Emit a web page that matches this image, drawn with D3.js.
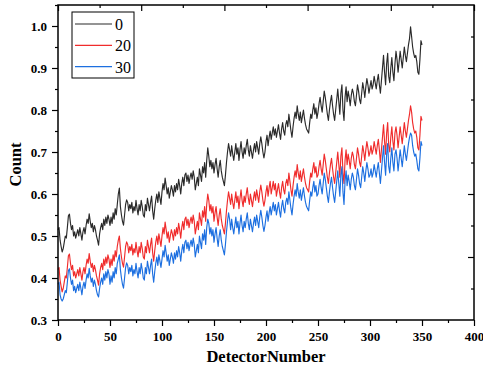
<!DOCTYPE html>
<html><head><meta charset="utf-8">
<script src="https://cdn.jsdelivr.net/npm/d3@7"></script>
<style>body{margin:0;background:#fff;} svg{display:block}</style>
</head><body>
<svg id="c" width="483" height="367"></svg>
<script>
const seriesNames = ["0", "20", "30"];
const seriesColors = ["#2a2a2a", "#f02c2c", "#1c6fe0"];
const xTicks = [0, 50, 100, 150, 200, 250, 300, 350, 400];
const yTicks = [0.3, 0.4, 0.5, 0.6, 0.7, 0.8, 0.9, 1.0];

const count0 = [0.515,0.52,0.49,0.475,0.462,0.47,0.485,0.50,0.495,0.52,
0.548,0.552,0.53,0.515,0.525,0.50,0.51,0.495,0.505,0.515,
0.50,0.52,0.505,0.49,0.51,0.52,0.505,0.525,0.54,0.53,
0.553,0.535,0.52,0.53,0.51,0.525,0.515,0.50,0.49,0.478,
0.505,0.52,0.53,0.515,0.54,0.525,0.545,0.53,0.55,0.54,
0.525,0.545,0.53,0.555,0.54,0.565,0.55,0.575,0.60,0.614,
0.57,0.55,0.535,0.526,0.55,0.575,0.586,0.58,0.56,0.575,
0.565,0.58,0.555,0.57,0.56,0.585,0.565,0.55,0.575,0.56,
0.585,0.57,0.55,0.545,0.575,0.56,0.59,0.575,0.56,0.58,
0.595,0.56,0.54,0.565,0.585,0.60,0.58,0.605,0.59,0.575,
0.605,0.625,0.61,0.638,0.62,0.60,0.615,0.59,0.605,0.62,
0.61,0.595,0.62,0.605,0.625,0.61,0.635,0.62,0.60,0.625,
0.64,0.62,0.645,0.65,0.63,0.645,0.625,0.64,0.65,0.635,
0.655,0.64,0.61,0.625,0.64,0.62,0.66,0.645,0.63,0.665,
0.65,0.675,0.64,0.68,0.71,0.69,0.665,0.68,0.66,0.675,
0.65,0.67,0.685,0.66,0.64,0.665,0.68,0.655,0.64,0.63,
0.62,0.645,0.675,0.70,0.72,0.705,0.69,0.715,0.695,0.68,
0.70,0.72,0.695,0.71,0.68,0.705,0.725,0.70,0.685,0.71,
0.695,0.715,0.73,0.705,0.69,0.715,0.70,0.685,0.705,0.72,
0.70,0.725,0.71,0.695,0.72,0.736,0.72,0.70,0.686,0.70,
0.725,0.74,0.715,0.735,0.75,0.73,0.745,0.76,0.74,0.755,
0.735,0.75,0.765,0.745,0.73,0.755,0.77,0.75,0.74,0.765,
0.775,0.76,0.79,0.77,0.75,0.735,0.76,0.78,0.795,0.78,
0.81,0.79,0.775,0.795,0.77,0.785,0.80,0.78,0.765,0.755,
0.75,0.745,0.77,0.79,0.78,0.80,0.815,0.79,0.805,0.78,
0.795,0.815,0.83,0.81,0.795,0.82,0.845,0.83,0.81,0.79,
0.775,0.80,0.82,0.835,0.81,0.79,0.775,0.80,0.825,0.85,
0.82,0.79,0.84,0.86,0.80,0.775,0.83,0.855,0.82,0.845,
0.83,0.81,0.835,0.85,0.84,0.82,0.81,0.835,0.86,0.845,
0.825,0.815,0.84,0.865,0.85,0.83,0.855,0.875,0.86,0.84,
0.855,0.87,0.85,0.86,0.88,0.865,0.85,0.87,0.885,0.86,
0.84,0.87,0.90,0.93,0.89,0.86,0.91,0.935,0.88,0.865,
0.90,0.925,0.89,0.87,0.91,0.94,0.92,0.89,0.915,0.94,
0.92,0.90,0.925,0.95,0.93,0.915,0.935,0.955,0.97,0.998,
0.975,0.95,0.935,0.925,0.93,0.915,0.89,0.885,0.92,0.965,0.955];

const count20 = [0.42,0.425,0.395,0.38,0.367,0.375,0.39,0.405,0.40,0.425,
0.453,0.457,0.435,0.42,0.43,0.405,0.415,0.40,0.41,0.42,
0.405,0.425,0.41,0.395,0.415,0.425,0.41,0.43,0.445,0.435,
0.458,0.44,0.425,0.435,0.415,0.43,0.42,0.405,0.395,0.383,
0.41,0.425,0.435,0.42,0.445,0.43,0.45,0.435,0.455,0.445,
0.425,0.445,0.43,0.455,0.44,0.465,0.45,0.475,0.49,0.50,
0.47,0.45,0.435,0.426,0.45,0.475,0.486,0.48,0.46,0.475,
0.465,0.48,0.455,0.47,0.46,0.485,0.465,0.45,0.475,0.46,
0.485,0.47,0.45,0.445,0.475,0.46,0.49,0.475,0.46,0.48,
0.495,0.46,0.44,0.465,0.485,0.50,0.48,0.505,0.49,0.475,
0.50,0.52,0.505,0.533,0.515,0.495,0.51,0.485,0.50,0.515,
0.505,0.49,0.515,0.50,0.52,0.505,0.53,0.515,0.495,0.52,
0.535,0.515,0.54,0.545,0.525,0.54,0.52,0.535,0.545,0.53,
0.55,0.535,0.505,0.52,0.535,0.515,0.555,0.54,0.525,0.56,
0.545,0.57,0.535,0.575,0.60,0.585,0.56,0.575,0.555,0.57,
0.535,0.555,0.57,0.545,0.525,0.55,0.565,0.54,0.525,0.515,
0.505,0.53,0.56,0.585,0.605,0.59,0.575,0.60,0.58,0.565,
0.585,0.605,0.58,0.595,0.565,0.59,0.61,0.585,0.57,0.595,
0.58,0.60,0.615,0.59,0.575,0.60,0.585,0.57,0.59,0.605,
0.585,0.61,0.595,0.58,0.605,0.621,0.605,0.585,0.571,0.585,
0.605,0.62,0.595,0.615,0.63,0.60,0.615,0.63,0.61,0.625,
0.595,0.61,0.625,0.605,0.59,0.615,0.63,0.61,0.60,0.625,
0.635,0.62,0.65,0.63,0.61,0.595,0.62,0.64,0.655,0.64,
0.67,0.65,0.635,0.655,0.63,0.645,0.66,0.64,0.625,0.615,
0.61,0.605,0.63,0.65,0.64,0.66,0.675,0.65,0.665,0.64,
0.645,0.665,0.68,0.66,0.645,0.67,0.695,0.68,0.66,0.64,
0.625,0.65,0.67,0.685,0.66,0.64,0.625,0.65,0.675,0.70,
0.67,0.64,0.69,0.71,0.65,0.625,0.68,0.705,0.67,0.695,
0.68,0.66,0.685,0.70,0.69,0.67,0.66,0.685,0.71,0.695,
0.675,0.665,0.69,0.715,0.70,0.68,0.705,0.725,0.71,0.69,
0.70,0.715,0.695,0.705,0.725,0.71,0.695,0.715,0.73,0.705,
0.675,0.705,0.735,0.765,0.725,0.695,0.745,0.77,0.715,0.70,
0.735,0.76,0.725,0.705,0.745,0.76,0.74,0.71,0.735,0.76,
0.74,0.72,0.745,0.77,0.75,0.735,0.755,0.775,0.79,0.81,
0.795,0.77,0.755,0.745,0.75,0.735,0.71,0.705,0.74,0.785,0.775];

const count30 = [0.385,0.39,0.36,0.35,0.345,0.35,0.36,0.37,0.365,0.39,
0.418,0.422,0.40,0.385,0.395,0.37,0.38,0.365,0.375,0.385,
0.37,0.39,0.375,0.36,0.38,0.39,0.375,0.395,0.41,0.40,
0.423,0.405,0.39,0.40,0.38,0.395,0.385,0.37,0.36,0.355,
0.375,0.39,0.40,0.385,0.41,0.395,0.415,0.40,0.42,0.41,
0.385,0.405,0.39,0.415,0.40,0.425,0.41,0.435,0.445,0.455,
0.42,0.40,0.385,0.376,0.40,0.425,0.436,0.43,0.41,0.425,
0.415,0.43,0.405,0.42,0.41,0.435,0.415,0.40,0.425,0.41,
0.435,0.42,0.40,0.395,0.425,0.41,0.44,0.425,0.41,0.43,
0.445,0.41,0.39,0.415,0.435,0.45,0.43,0.455,0.44,0.425,
0.445,0.465,0.45,0.478,0.46,0.44,0.455,0.43,0.445,0.46,
0.45,0.435,0.46,0.445,0.465,0.45,0.475,0.46,0.44,0.465,
0.48,0.46,0.485,0.49,0.47,0.485,0.465,0.48,0.49,0.475,
0.495,0.48,0.45,0.465,0.48,0.46,0.50,0.485,0.47,0.505,
0.49,0.515,0.48,0.52,0.54,0.53,0.505,0.52,0.50,0.515,
0.485,0.505,0.52,0.495,0.475,0.50,0.515,0.49,0.475,0.465,
0.455,0.48,0.51,0.535,0.555,0.54,0.515,0.54,0.52,0.505,
0.525,0.545,0.52,0.535,0.505,0.53,0.55,0.525,0.51,0.535,
0.52,0.54,0.555,0.53,0.515,0.54,0.525,0.51,0.53,0.545,
0.525,0.55,0.535,0.52,0.545,0.561,0.545,0.525,0.511,0.525,
0.545,0.56,0.535,0.555,0.57,0.55,0.565,0.58,0.56,0.575,
0.55,0.565,0.58,0.56,0.545,0.57,0.585,0.565,0.555,0.58,
0.59,0.575,0.605,0.585,0.565,0.55,0.575,0.595,0.61,0.595,
0.625,0.605,0.59,0.61,0.585,0.60,0.615,0.595,0.58,0.57,
0.565,0.56,0.585,0.605,0.595,0.615,0.63,0.605,0.62,0.595,
0.60,0.62,0.635,0.615,0.60,0.625,0.65,0.635,0.615,0.595,
0.58,0.605,0.625,0.64,0.615,0.595,0.58,0.605,0.63,0.655,
0.625,0.595,0.645,0.665,0.605,0.575,0.63,0.655,0.62,0.645,
0.63,0.61,0.635,0.65,0.64,0.62,0.61,0.635,0.66,0.645,
0.625,0.615,0.64,0.665,0.65,0.63,0.655,0.675,0.66,0.64,
0.645,0.66,0.64,0.65,0.67,0.655,0.64,0.66,0.675,0.65,
0.625,0.655,0.685,0.715,0.675,0.645,0.695,0.72,0.665,0.65,
0.685,0.71,0.675,0.655,0.695,0.705,0.685,0.655,0.68,0.705,
0.685,0.665,0.69,0.715,0.695,0.68,0.70,0.72,0.735,0.745,
0.74,0.715,0.70,0.69,0.695,0.68,0.66,0.655,0.685,0.725,0.715];

const detectorNumber = count0.map((_, i) => i);
const series = [count0, count20, count30];

const svg = d3.select("#c");
const L = 58, R = 474, T = 5, B = 320;
const x = d3.scaleLinear().domain([0, 400]).range([L, R]);
const y = d3.scaleLinear().domain([0.3, 1.05]).range([B, T]);
const font = "'Liberation Serif','Times New Roman',serif";

function styleAxis(g, labels) {
  g.select(".domain").remove();
  g.selectAll(".tick line").attr("stroke", "#000").attr("stroke-width", 1.2);
  g.selectAll(".tick text").attr("font-family", font).attr("font-weight", "bold")
    .attr("font-size", "13px").attr("fill", "#000");
  if (!labels) g.selectAll(".tick text").remove();
}

// data lines
const line = d3.line().x((d, i) => x(detectorNumber[i])).y(d => y(d));
series.forEach((s, k) => {
  svg.append("path").datum(s).attr("d", line)
    .attr("fill", "none").attr("stroke", seriesColors[k]).attr("stroke-width", 1.15)
    .attr("stroke-linejoin", "round");
});

// bottom axis
svg.append("g").attr("transform", `translate(0,${B})`)
  .call(d3.axisBottom(x).tickValues(xTicks).tickSize(6).tickPadding(6).tickFormat(d3.format("d")))
  .call(g => styleAxis(g, true));
svg.append("g").attr("transform", `translate(0,${B})`)
  .call(d3.axisBottom(x).tickValues(xTicks.slice(0, -1).map(v => v + 25)).tickSize(3).tickFormat(""))
  .call(g => styleAxis(g, false));
// left axis
svg.append("g").attr("transform", `translate(${L},0)`)
  .call(d3.axisLeft(y).tickValues(yTicks).tickSize(6).tickPadding(5).tickFormat(d3.format(".1f")))
  .call(g => styleAxis(g, true));
svg.append("g").attr("transform", `translate(${L},0)`)
  .call(d3.axisLeft(y).tickValues(yTicks.map(v => v + 0.05)).tickSize(3).tickFormat(""))
  .call(g => styleAxis(g, false));
// top axis (inward)
svg.append("g").attr("transform", `translate(0,${T})`)
  .call(d3.axisTop(x).tickValues([0, 80, 160, 240, 320, 400]).tickSize(-6).tickFormat(""))
  .call(g => styleAxis(g, false));
svg.append("g").attr("transform", `translate(0,${T})`)
  .call(d3.axisTop(x).tickValues([40, 120, 200, 280, 360]).tickSize(-3).tickFormat(""))
  .call(g => styleAxis(g, false));
// right axis (inward)
svg.append("g").attr("transform", `translate(${R},0)`)
  .call(d3.axisRight(y).tickValues([0.45, 0.6, 0.75, 0.9]).tickSize(-6).tickFormat(""))
  .call(g => styleAxis(g, false));
svg.append("g").attr("transform", `translate(${R},0)`)
  .call(d3.axisRight(y).tickValues([0.375, 0.525, 0.675, 0.825, 0.975]).tickSize(-3).tickFormat(""))
  .call(g => styleAxis(g, false));

// frame
svg.append("rect").attr("x", L).attr("y", T).attr("width", R - L).attr("height", B - T)
  .attr("fill", "none").attr("stroke", "#000").attr("stroke-width", 1.5);

// axis titles
svg.append("text").attr("x", (L + R) / 2).attr("y", 362).attr("text-anchor", "middle")
  .attr("font-family", font).attr("font-weight", "bold").attr("font-size", "16.5px")
  .text("DetectorNumber");
svg.append("text").attr("transform", `translate(21,${(T + B) / 2 + 2}) rotate(-90)`)
  .attr("text-anchor", "middle")
  .attr("font-family", font).attr("font-weight", "bold").attr("font-size", "16.5px")
  .text("Count");

// legend
const lg = svg.append("g");
lg.append("rect").attr("x", 72).attr("y", 12).attr("width", 62).attr("height", 66)
  .attr("fill", "#fff").attr("stroke", "#000").attr("stroke-width", 1);
seriesNames.forEach((n, k) => {
  const yy = 24 + k * 21.3;
  lg.append("line").attr("x1", 75).attr("x2", 112).attr("y1", yy).attr("y2", yy)
    .attr("stroke", seriesColors[k]).attr("stroke-width", 1.15);
  lg.append("text").attr("x", 115).attr("y", yy + 6).attr("font-family", font)
    .attr("font-size", "16px").attr("fill", "#000").text(n);
});
</script>
</body></html>
